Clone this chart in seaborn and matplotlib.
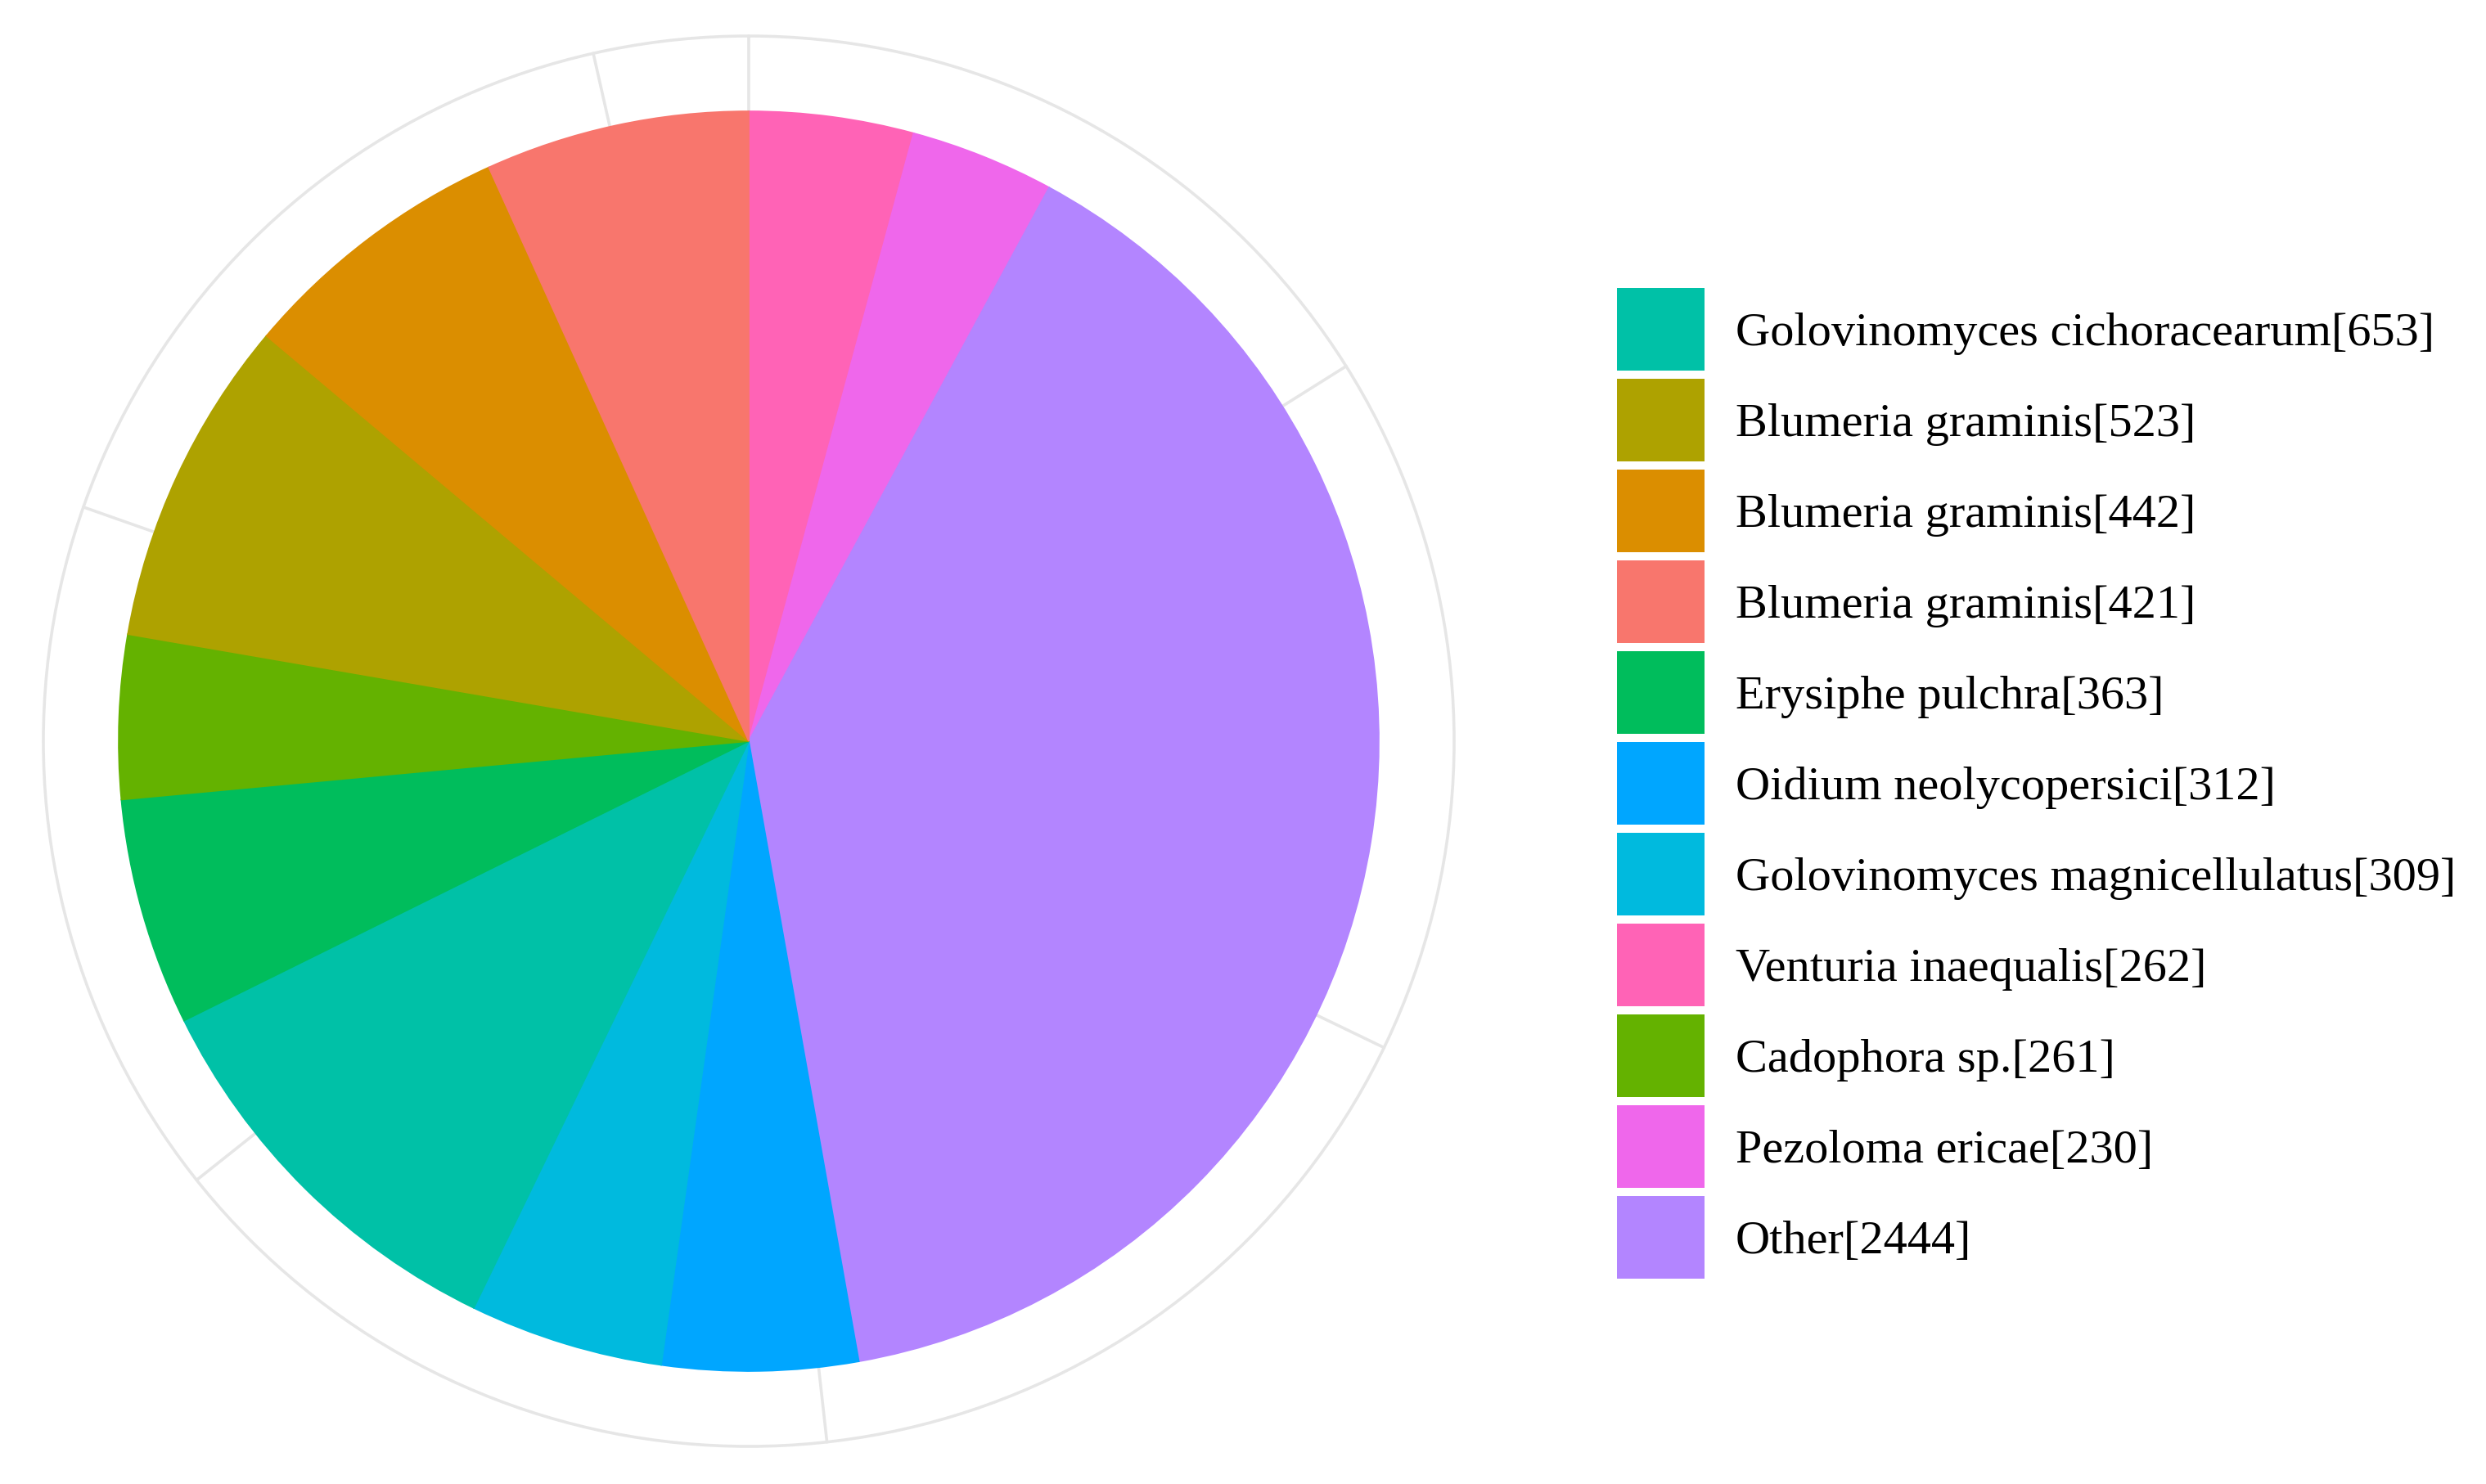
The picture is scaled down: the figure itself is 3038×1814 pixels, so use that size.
import matplotlib
matplotlib.use('Agg')
import matplotlib.pyplot as plt
from matplotlib.patches import Patch, Circle
import seaborn as sns
import numpy as np

sns.set_theme(style='white')
plt.rcParams['font.family'] = ['Liberation Serif', 'DejaVu Serif']
plt.rcParams['text.color'] = 'black'

# legend order (ggplot factor levels)
species = ['Golovinomyces cichoracearum', 'Blumeria graminis', 'Blumeria graminis',
           'Blumeria graminis', 'Erysiphe pulchra', 'Oidium neolycopersici',
           'Golovinomyces magnicellulatus', 'Venturia inaequalis', 'Cadophora sp.',
           'Pezoloma ericae', 'Other']
counts = [653, 523, 442, 421, 363, 312, 309, 262, 261, 230, 2444]
hex_cols = ['#00C1A7', '#AEA200', '#DB8E00', '#F8766D', '#00BD5C', '#00A6FF',
            '#00BADE', '#FF63B6', '#64B200', '#EF67EB', '#B385FF']
# order of slices clockwise from 12 o'clock (index into the lists above)
slice_order = [7, 9, 10, 5, 6, 0, 4, 8, 1, 2, 3]
theta_breaks = [0, 1000, 2000, 3000, 4000, 5000, 6000]

pal = sns.color_palette(hex_cols)
labels = [f'{s}[{c}]' for s, c in zip(species, counts)]
total = sum(counts)

W, H, dpi = 3038, 1815, 200
fig = plt.figure(figsize=(W / dpi, H / dpi), dpi=dpi)
cx, cy, half = 915, 907, 900
ax = fig.add_axes([(cx - half) / W, (H - cy - half) / H, 2 * half / W, 2 * half / H])

r_pie, r_out = 770, 862
grid_col = '#E6E6E6'
# theta grid lines + outer circle (behind the pie)
for b in theta_breaks:
    a = np.deg2rad(90 - b / total * 360)
    ax.plot([0, r_out * np.cos(a)], [0, r_out * np.sin(a)], color=grid_col, lw=1.3, zorder=0)
ax.add_patch(Circle((0, 0), r_out, fill=False, ec=grid_col, lw=1.3, zorder=0))

vals = [counts[i] for i in slice_order]
cols = [pal[i] for i in slice_order]
wedges, _ = ax.pie(vals, colors=cols, startangle=90, counterclock=False,
                   radius=r_pie, center=(0, 0), wedgeprops=dict(linewidth=0.6))
for w in wedges:
    w.set_edgecolor(w.get_facecolor())
    w.set_zorder(2)

ax.set_xlim(-half, half)
ax.set_ylim(-half, half)
ax.set_aspect('equal')
ax.axis('off')

fs = 21
fs_px = fs * dpi / 72
# legend patch height = fs*(0.65*h + 0.245)
key_h = (101 / fs_px - 0.245) / 0.65
handles = [Patch(facecolor=pal[i], edgecolor='none') for i in range(len(species))]
fig.legend(handles, labels, loc='upper left', bbox_to_anchor=(1976 / W, 1 - 353 / H),
           frameon=False, fontsize=fs, borderpad=0, borderaxespad=0,
           handlelength=107 / fs_px, handleheight=key_h,
           labelspacing=(111 - 101) / fs_px, handletextpad=38 / fs_px)

plt.savefig('out.png', dpi=dpi)
plt.close()
